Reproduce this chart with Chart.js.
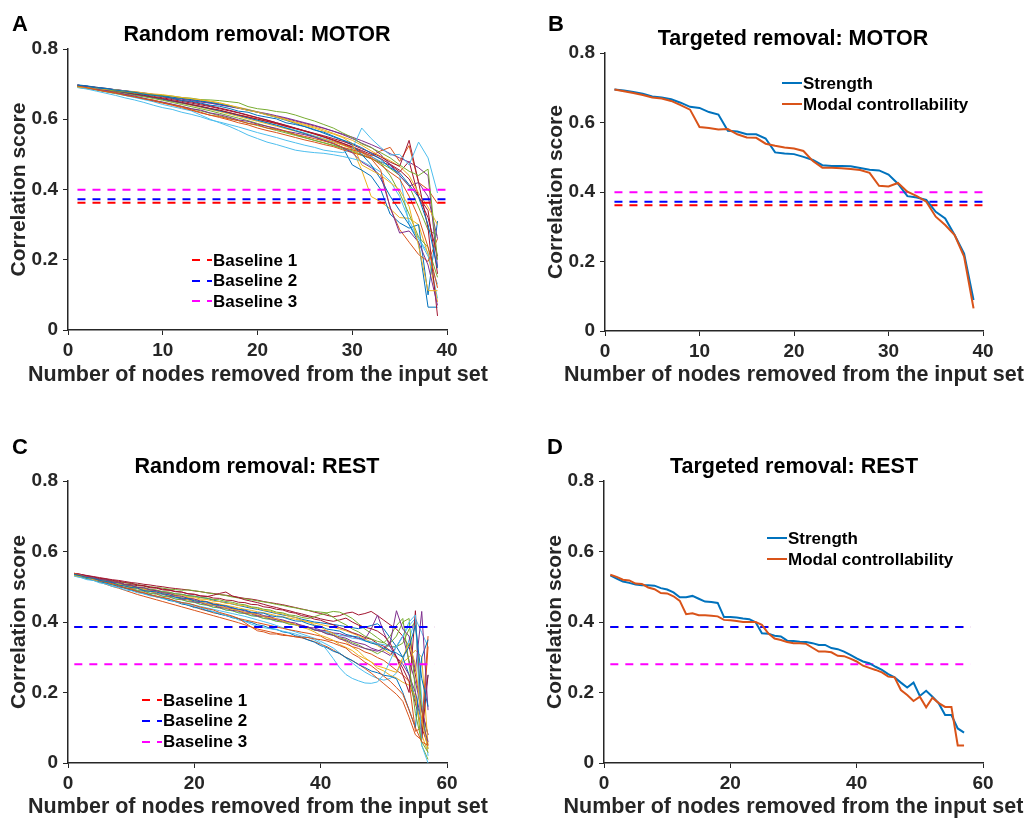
<!DOCTYPE html>
<html lang="en">
<head>
<meta charset="UTF-8">
<script src="https://cdn.jsdelivr.net/npm/chart.js"></script>
<title>Random and targeted removal</title>
<style>
  body { margin:0; background:#fff; width:1026px; height:818px; position:relative; overflow:hidden;
         font-family:"Liberation Sans", Arial, Helvetica, sans-serif; }
  canvas { position:absolute; }
  .txt { position:absolute; font-weight:bold; color:#000; white-space:nowrap; }
  .letter { font-size:22px; line-height:22px; }
  .title { font-size:21.5px; line-height:21px; width:400px; text-align:center; }
  .xtitle { font-size:21.5px; line-height:21px; width:500px; text-align:center; color:#262626; }
  .leg { font-size:17px; line-height:17px; }
  svg.sample { position:absolute; overflow:visible; }
</style>
</head>
<body>
<canvas id="cA" width="513" height="409" style="left:0;top:0"></canvas>
<canvas id="cB" width="513" height="409" style="left:513px;top:0"></canvas>
<canvas id="cC" width="513" height="418" style="left:0;top:400px"></canvas>
<canvas id="cD" width="513" height="418" style="left:513px;top:400px"></canvas>

<div class="txt letter" style="left:12px;top:13px">A</div>
<div class="txt letter" style="left:548px;top:13px">B</div>
<div class="txt letter" style="left:12px;top:436px">C</div>
<div class="txt letter" style="left:547px;top:436px">D</div>

<div class="txt title" style="left:57px;top:24px">Random removal: MOTOR</div>
<div class="txt title" style="left:593px;top:28px">Targeted removal: MOTOR</div>
<div class="txt title" style="left:57px;top:456px">Random removal: REST</div>
<div class="txt title" style="left:594px;top:456px">Targeted removal: REST</div>

<div class="txt xtitle" style="left:8px;top:364px">Number of nodes removed from the input set</div>
<div class="txt xtitle" style="left:544px;top:364px">Number of nodes removed from the input set</div>
<div class="txt xtitle" style="left:8px;top:795.5px">Number of nodes removed from the input set</div>
<div class="txt xtitle" style="left:543.5px;top:795.5px">Number of nodes removed from the input set</div>

<script>
// ---- data ----
const baselineNames = ['Baseline 1', 'Baseline 2', 'Baseline 3'];
const baselinesMotor = [0.362, 0.372, 0.399];
const baselinesRest = [0.386, 0.386, 0.280];
const motorRange = [1, 40];
const restRange = [1, 58];

const strengthMotor = [
  .695,.692,.688,.683,.675,.672,.667,.657,.645,.642,
  .630,.623,.576,.574,.566,.566,.554,.514,.511,.509,
  .501,.492,.477,.475,.475,.474,.469,.464,.462,.450,
  .424,.388,.384,.377,.343,.324,.276,.223,.089];
const modalMotor = [
  .695,.690,.685,.679,.672,.669,.662,.650,.637,.587,
  .584,.580,.581,.566,.557,.556,.539,.533,.528,.525,
  .518,.489,.470,.470,.468,.466,.463,.455,.418,.416,
  .426,.401,.388,.372,.329,.305,.276,.214,.065];

const strengthRest = [
  .532,.523,.515,.511,.506,.504,.504,.503,.496,.492,
  .484,.470,.470,.474,.466,.458,.457,.454,.414,.414,
  .413,.410,.408,.399,.368,.367,.361,.359,.347,.346,
  .344,.343,.340,.335,.335,.326,.323,.316,.307,.297,
  .288,.283,.273,.264,.252,.243,.228,.214,.228,.190,
  .205,.188,.169,.136,.136,.098,.086];
const modalRest = [
  .534,.528,.520,.518,.509,.508,.498,.493,.482,.481,
  .473,.460,.422,.425,.419,.419,.418,.416,.406,.405,
  .403,.400,.400,.400,.392,.368,.353,.349,.343,.340,
  .340,.338,.327,.316,.316,.314,.304,.303,.296,.288,
  .276,.270,.264,.257,.245,.243,.207,.193,.176,.188,
  .158,.185,.170,.159,.159,.050,.050];

const randomMotor = [
  [.697,.694,.689,.687,.683,.680,.677,.671,.668,.665,
   .660,.653,.651,.646,.640,.637,.631,.623,.620,.611,
   .606,.601,.590,.585,.579,.569,.563,.552,.541,.531,
   .519,.503,.486,.462,.447,.414,.378,.300,.176],
  [.695,.690,.684,.679,.676,.668,.664,.658,.655,.647,
   .641,.636,.627,.620,.611,.608,.601,.596,.588,.584,
   .575,.571,.566,.557,.551,.545,.538,.531,.520,.513,
   .505,.490,.470,.449,.430,.381,.321,.236,.120],
  [.692,.690,.688,.685,.684,.680,.679,.675,.672,.670,
   .666,.662,.659,.655,.652,.647,.640,.632,.625,.620,
   .612,.606,.598,.590,.582,.575,.566,.558,.548,.531,
   .470,.455,.441,.420,.399,.352,.240,.112,.112],
  [.696,.692,.686,.682,.676,.671,.666,.660,.654,.649,
   .643,.637,.630,.626,.618,.613,.606,.598,.594,.586,
   .580,.574,.566,.561,.556,.549,.540,.532,.519,.505,
   .478,.462,.440,.350,.276,.282,.250,.185,.070],
  [.694,.690,.688,.683,.681,.678,.675,.672,.669,.668,
   .666,.662,.660,.656,.655,.653,.650,.647,.636,.630,
   .627,.622,.619,.612,.603,.595,.585,.575,.561,.548,
   .530,.519,.505,.490,.470,.452,.440,.458,.200],
  [.690,.686,.680,.674,.668,.661,.655,.648,.640,.633,
   .628,.620,.614,.607,.598,.592,.585,.578,.570,.562,
   .555,.548,.540,.533,.526,.520,.512,.508,.505,.515,
   .575,.545,.520,.498,.500,.470,.535,.490,.390],
  [.697,.693,.689,.685,.681,.677,.672,.668,.663,.659,
   .653,.648,.642,.637,.631,.626,.619,.612,.606,.600,
   .594,.588,.580,.574,.567,.560,.553,.545,.537,.528,
   .516,.505,.493,.478,.466,.540,.420,.290,.040],
  [.698,.695,.691,.688,.684,.681,.677,.674,.670,.667,
   .663,.659,.656,.652,.648,.643,.638,.632,.626,.620,
   .613,.605,.597,.588,.579,.571,.560,.550,.540,.526,
   .500,.470,.430,.381,.340,.300,.250,.065,.065],
  [.693,.689,.684,.679,.674,.670,.664,.659,.652,.646,
   .640,.633,.626,.618,.612,.605,.598,.590,.584,.575,
   .568,.562,.555,.548,.541,.535,.528,.522,.513,.505,
   .498,.488,.455,.348,.286,.250,.215,.195,.260],
  [.695,.693,.690,.686,.682,.679,.676,.672,.668,.665,
   .663,.660,.657,.654,.650,.645,.640,.634,.628,.621,
   .614,.607,.600,.592,.585,.578,.570,.560,.550,.540,
   .526,.510,.495,.482,.466,.440,.390,.350,.300],
  [.696,.693,.690,.686,.683,.680,.676,.672,.669,.665,
   .661,.657,.653,.649,.646,.642,.637,.633,.627,.621,
   .616,.610,.604,.597,.590,.583,.575,.566,.556,.545,
   .532,.520,.500,.470,.440,.410,.420,.380,.260],
  [.693,.689,.685,.681,.677,.672,.668,.664,.659,.654,
   .648,.642,.636,.630,.624,.617,.610,.603,.596,.588,
   .580,.572,.564,.556,.548,.540,.533,.525,.516,.507,
   .497,.488,.476,.440,.390,.330,.265,.235,.150],
  [.692,.688,.684,.679,.674,.668,.662,.656,.650,.642,
   .636,.630,.624,.612,.600,.590,.580,.568,.555,.545,
   .535,.528,.520,.512,.508,.505,.503,.499,.494,.488,
   .481,.466,.450,.424,.380,.312,.260,.210,.130],
  [.697,.694,.691,.688,.684,.681,.677,.673,.669,.664,
   .659,.654,.649,.644,.638,.632,.626,.619,.612,.605,
   .598,.590,.582,.574,.566,.558,.550,.541,.532,.522,
   .511,.500,.488,.472,.455,.430,.380,.320,.210],
  [.696,.692,.688,.684,.680,.676,.671,.667,.662,.657,
   .652,.647,.642,.636,.630,.624,.618,.611,.604,.597,
   .590,.583,.575,.567,.559,.550,.540,.530,.520,.470,
   .455,.438,.400,.330,.305,.290,.300,.100,.310],
  [.694,.691,.687,.683,.679,.675,.670,.666,.661,.656,
   .651,.646,.641,.636,.630,.625,.619,.613,.607,.601,
   .594,.587,.580,.573,.566,.558,.549,.539,.528,.518,
   .506,.496,.510,.520,.480,.525,.420,.400,.360],
  [.695,.691,.688,.684,.680,.676,.672,.667,.663,.658,
   .652,.646,.640,.634,.628,.622,.615,.608,.601,.594,
   .587,.580,.573,.566,.559,.551,.543,.535,.526,.516,
   .455,.380,.365,.345,.320,.318,.300,.215,.080],
  [.696,.693,.690,.687,.684,.681,.678,.675,.671,.667,
   .663,.659,.655,.651,.646,.641,.636,.631,.626,.620,
   .614,.608,.602,.595,.588,.581,.574,.566,.558,.549,
   .539,.528,.516,.502,.490,.478,.462,.440,.180],
  [.691,.687,.683,.678,.673,.668,.663,.658,.653,.648,
   .642,.636,.630,.624,.617,.610,.603,.596,.589,.582,
   .575,.568,.561,.554,.547,.540,.533,.526,.519,.510,
   .500,.488,.475,.460,.440,.410,.350,.285,.270],
  [.694,.690,.686,.682,.678,.674,.670,.666,.661,.656,
   .651,.646,.641,.635,.629,.623,.617,.611,.604,.597,
   .590,.583,.576,.569,.561,.553,.545,.536,.527,.517,
   .506,.494,.480,.465,.440,.300,.260,.220,.090],
  [.697,.694,.690,.686,.682,.678,.674,.670,.665,.661,
   .656,.651,.646,.641,.636,.630,.624,.618,.611,.604,
   .597,.590,.583,.575,.567,.559,.550,.541,.531,.520,
   .508,.494,.478,.470,.450,.480,.380,.340,.160]
];

const randomRest = [
  [.535,.531,.526,.524,.518,.515,.512,.505,.502,.498,
   .496,.489,.487,.485,.480,.477,.470,.468,.466,.460,
   .458,.457,.450,.447,.446,.440,.436,.434,.428,.426,
   .425,.418,.415,.414,.408,.403,.402,.395,.390,.388,
   .380,.377,.374,.365,.360,.357,.347,.340,.336,.325,
   .318,.312,.300,.330,.390,.240,.160],
  [.538,.533,.527,.524,.517,.513,.509,.502,.497,.493,
   .486,.483,.478,.472,.470,.466,.460,.455,.453,.448,
   .442,.438,.434,.427,.422,.417,.410,.398,.386,.375,
   .372,.366,.366,.362,.361,.358,.357,.356,.352,.350,
   .346,.340,.333,.326,.310,.300,.286,.276,.262,.246,
   .232,.214,.195,.150,.100,.060,.050],
  [.532,.529,.526,.520,.517,.514,.508,.505,.502,.497,
   .494,.491,.486,.483,.480,.475,.472,.469,.463,.460,
   .457,.451,.448,.445,.440,.436,.433,.427,.424,.421,
   .415,.412,.409,.402,.398,.393,.385,.380,.372,.362,
   .356,.348,.336,.328,.319,.305,.296,.287,.275,.270,
   .263,.257,.300,.340,.280,.120,.040],
  [.537,.534,.528,.526,.520,.519,.513,.512,.506,.504,
   .498,.497,.491,.489,.483,.481,.475,.473,.467,.465,
   .459,.457,.451,.449,.443,.441,.435,.432,.426,.424,
   .418,.415,.409,.406,.400,.397,.390,.386,.378,.374,
   .366,.362,.352,.347,.337,.331,.325,.321,.317,.326,
   .340,.432,.380,.360,.260,.430,.150],
  [.534,.532,.527,.525,.520,.518,.513,.511,.506,.504,
   .499,.498,.493,.491,.486,.485,.480,.479,.474,.473,
   .469,.468,.464,.463,.458,.456,.451,.449,.443,.441,
   .436,.434,.428,.426,.420,.418,.413,.410,.415,.421,
   .424,.413,.401,.392,.380,.372,.360,.352,.345,.341,
   .360,.390,.410,.280,.140,.060,.030],
  [.530,.526,.520,.518,.511,.508,.501,.498,.491,.489,
   .483,.480,.474,.472,.466,.464,.457,.455,.449,.447,
   .440,.436,.429,.425,.418,.414,.406,.402,.394,.388,
   .384,.381,.378,.374,.370,.366,.360,.356,.349,.340,
   .320,.296,.270,.251,.240,.233,.227,.226,.230,.251,
   .290,.331,.360,.400,.420,.050,.000],
  [.538,.535,.531,.528,.524,.522,.518,.516,.512,.510,
   .505,.503,.499,.497,.493,.491,.487,.485,.480,.478,
   .474,.472,.476,.481,.485,.474,.469,.463,.459,.455,
   .450,.445,.441,.436,.432,.427,.423,.418,.414,.409,
   .405,.402,.406,.411,.400,.391,.385,.381,.374,.361,
   .340,.301,.250,.200,.432,.070,.250],
  [.533,.528,.525,.518,.516,.509,.507,.500,.497,.490,
   .487,.480,.477,.471,.468,.461,.458,.451,.448,.441,
   .439,.432,.429,.422,.419,.412,.409,.402,.399,.392,
   .389,.382,.379,.372,.369,.361,.357,.349,.343,.333,
   .327,.317,.311,.299,.291,.279,.271,.261,.256,.249,
   .246,.239,.200,.151,.100,.300,.350],
  [.538,.534,.528,.525,.518,.515,.508,.504,.496,.493,
   .486,.483,.476,.474,.468,.465,.458,.455,.447,.444,
   .436,.432,.426,.423,.418,.415,.410,.406,.402,.398,
   .394,.390,.386,.382,.378,.375,.371,.368,.364,.360,
   .350,.347,.342,.338,.330,.325,.315,.309,.299,.291,
   .277,.263,.250,.231,.090,.100,.360],
  [.535,.532,.526,.524,.518,.516,.510,.508,.502,.500,
   .495,.494,.489,.488,.483,.482,.477,.476,.471,.470,
   .465,.464,.459,.458,.453,.452,.447,.446,.441,.439,
   .433,.431,.425,.423,.416,.413,.405,.401,.392,.386,
   .375,.367,.354,.344,.329,.317,.299,.286,.269,.261,
   .249,.241,.229,.221,.190,.080,.030],
  [.536,.530,.528,.521,.519,.513,.511,.505,.503,.497,
   .495,.489,.487,.481,.479,.473,.471,.465,.463,.457,
   .455,.449,.447,.441,.439,.433,.431,.425,.423,.417,
   .415,.409,.407,.401,.399,.393,.391,.385,.383,.377,
   .375,.369,.367,.361,.359,.353,.351,.380,.420,.370,
   .330,.300,.280,.250,.200,.120,.060],
  [.533,.530,.523,.521,.515,.512,.506,.504,.497,.495,
   .489,.487,.481,.479,.473,.471,.465,.463,.458,.456,
   .450,.448,.442,.440,.434,.432,.426,.424,.418,.416,
   .410,.408,.402,.400,.394,.392,.386,.384,.377,.374,
   .367,.363,.355,.350,.341,.335,.325,.319,.310,.320,
   .340,.360,.400,.410,.200,.050,.010],
  [.531,.528,.522,.520,.514,.512,.506,.504,.498,.496,
   .490,.488,.482,.480,.474,.472,.466,.464,.458,.456,
   .450,.448,.442,.440,.434,.432,.426,.424,.418,.416,
   .410,.408,.402,.400,.394,.392,.386,.384,.378,.376,
   .370,.368,.362,.360,.354,.352,.346,.344,.338,.336,
   .330,.328,.360,.390,.410,.370,.330],
  [.537,.535,.529,.527,.521,.520,.514,.513,.507,.506,
   .503,.502,.497,.496,.491,.490,.486,.485,.480,.479,
   .474,.473,.468,.467,.462,.461,.456,.455,.450,.449,
   .443,.441,.436,.434,.428,.425,.418,.415,.408,.405,
   .398,.392,.384,.378,.370,.364,.356,.351,.339,.331,
   .319,.301,.269,.231,.169,.101,.050],
  [.535,.532,.528,.525,.521,.518,.514,.510,.506,.502,
   .498,.494,.491,.488,.486,.483,.480,.478,.475,.473,
   .470,.467,.462,.458,.455,.451,.447,.443,.439,.436,
   .432,.428,.424,.420,.417,.413,.408,.404,.400,.398,
   .395,.393,.390,.387,.384,.381,.385,.390,.395,.380,
   .355,.330,.300,.250,.180,.120,.250],
  [.536,.531,.525,.519,.513,.507,.501,.496,.490,.484,
   .478,.473,.468,.463,.458,.453,.448,.443,.438,.433,
   .428,.423,.418,.413,.408,.403,.398,.392,.386,.380,
   .376,.372,.368,.365,.361,.358,.355,.350,.344,.337,
   .330,.320,.310,.300,.290,.280,.268,.255,.240,.225,
   .210,.195,.175,.130,.080,.065,.330],
  [.534,.530,.527,.523,.519,.516,.512,.508,.505,.501,
   .498,.494,.490,.487,.483,.480,.476,.472,.469,.465,
   .462,.458,.454,.451,.447,.444,.440,.436,.433,.429,
   .426,.422,.418,.415,.411,.408,.404,.400,.397,.393,
   .389,.385,.380,.375,.368,.361,.352,.343,.333,.322,
   .310,.298,.285,.300,.320,.300,.050],
  [.536,.533,.527,.524,.521,.515,.513,.509,.503,.500,
   .497,.491,.489,.486,.479,.476,.474,.467,.465,.462,
   .455,.452,.450,.444,.440,.438,.431,.428,.426,.419,
   .416,.414,.406,.403,.400,.392,.389,.386,.378,.374,
   .371,.362,.358,.354,.345,.340,.336,.326,.320,.315,
   .305,.330,.360,.290,.230,.150,.080],
  [.534,.532,.529,.526,.523,.520,.517,.514,.511,.509,
   .506,.503,.500,.498,.496,.493,.492,.490,.491,.489,
   .486,.483,.480,.478,.475,.471,.468,.466,.463,.460,
   .457,.454,.450,.447,.443,.440,.436,.433,.430,.428,
   .426,.430,.428,.420,.410,.395,.380,.368,.355,.342,
   .330,.330,.340,.380,.400,.150,.040],
  [.530,.527,.522,.518,.513,.509,.504,.500,.495,.491,
   .486,.482,.477,.473,.468,.465,.460,.456,.452,.448,
   .444,.440,.436,.432,.428,.424,.420,.416,.411,.406,
   .401,.396,.390,.384,.378,.372,.366,.360,.354,.345,
   .336,.326,.312,.298,.284,.270,.258,.248,.240,.235,
   .240,.255,.290,.350,.410,.180,.020],
  [.538,.535,.532,.529,.526,.523,.520,.518,.515,.512,
   .510,.507,.505,.502,.500,.497,.495,.493,.491,.488,
   .486,.483,.481,.478,.476,.473,.470,.467,.465,.462,
   .458,.455,.452,.449,.445,.441,.437,.433,.428,.424,
   .419,.415,.418,.425,.428,.420,.424,.430,.418,.405,
   .392,.380,.360,.330,.250,.150,.080]
];

// ---- styling ----
const LINE_COLORS = ['#0072BD', '#D95319', '#EDB120', '#7E2F8E', '#77AC30', '#4DBEEE', '#A2142F'];
const BASE_COLORS = ['#FF0000', '#0000FF', '#FF00FF'];
const AXIS = '#262626';
const FAMILY = '"Liberation Sans", Arial, Helvetica, sans-serif';

const pts = vals => vals.map((v, i) => ({ x: i + 1, y: v }));

function randomSets(lines) {
  return lines.map((vals, i) => ({
    data: pts(vals), borderColor: LINE_COLORS[i % 7], borderWidth: 1, order: 5
  }));
}

// red sits under blue, so where they share a value only blue shows
function baselineSets(vals, range, under) {
  const base = under ? 6 : 1;
  return vals.map((v, i) => ({
    data: [{ x: range[0], y: v }, { x: range[1], y: v }],
    borderColor: BASE_COLORS[i], borderWidth: 2, borderDash: [8, 7],
    order: base + (i === 0 ? 1 : 0)
  }));
}

function targetedSets(strength, modal) {
  return [
    { data: pts(modal), borderColor: LINE_COLORS[1], borderWidth: 2, order: 0 },
    { data: pts(strength), borderColor: LINE_COLORS[0], borderWidth: 2, order: 1 }
  ];
}

function makeChart(id, datasets, o) {
  return new Chart(document.getElementById(id), {
    type: 'line',
    data: { datasets },
    options: {
      responsive: false,
      animation: false,
      events: [],
      layout: { padding: { left: 0, top: o.top, right: o.right, bottom: 0 } },
      elements: { point: { radius: 0 }, line: { tension: 0 } },
      plugins: { legend: { display: false }, tooltip: { enabled: false } },
      scales: {
        x: {
          type: 'linear', min: 0, max: o.xMax,
          ticks: { stepSize: o.xStep, color: AXIS, padding: 4, maxRotation: 0,
                   font: { family: FAMILY, size: 19, weight: 'bold' } },
          grid: { drawOnChartArea: false, drawTicks: true, tickLength: 5, color: AXIS },
          border: { color: AXIS, width: 1.5 },
          afterFit: s => { s.height = o.xH; }
        },
        y: {
          type: 'linear', min: 0, max: 0.8,
          ticks: { stepSize: 0.2, color: AXIS, padding: 5,
                   font: { family: FAMILY, size: 19, weight: 'bold' } },
          grid: { drawOnChartArea: false, drawTicks: true, tickLength: 5, color: AXIS },
          border: { color: AXIS, width: 1.5 },
          title: { display: true, text: 'Correlation score', color: AXIS,
                   font: { family: FAMILY, size: 21, weight: 'bold', lineHeight: 1 },
                   padding: { top: o.yTitlePad, bottom: 0 } },
          afterFit: s => { s.width = o.yW; }
        }
      }
    }
  });
}

makeChart('cA', [...baselineSets(baselinesMotor, motorRange), ...randomSets(randomMotor)],
  { top: 49, right: 66, xH: 79, yW: 68, xMax: 40, xStep: 10, yTitlePad: 8.5 });
makeChart('cB', [...targetedSets(strengthMotor, modalMotor), ...baselineSets(baselinesMotor, motorRange, true)],
  { top: 53, right: 43, xH: 78, yW: 92, xMax: 40, xStep: 10, yTitlePad: 32.5 });
makeChart('cC', [...baselineSets(baselinesRest, restRange), ...randomSets(randomRest)],
  { top: 81, right: 66, xH: 55, yW: 68, xMax: 60, xStep: 20, yTitlePad: 8.5 });
makeChart('cD', [...targetedSets(strengthRest, modalRest), ...baselineSets(baselinesRest, restRange, true)],
  { top: 81, right: 43, xH: 55, yW: 91, xMax: 60, xStep: 20, yTitlePad: 31.5 });

// ---- legends (HTML) ----
function legend(x, textX, rows) {
  rows.forEach(r => {
    const svg = document.createElementNS('http://www.w3.org/2000/svg', 'svg');
    svg.setAttribute('class', 'sample');
    svg.setAttribute('width', textX - x);
    svg.setAttribute('height', 4);
    svg.style.left = x + 'px';
    svg.style.top = (r.y - 2) + 'px';
    const ln = document.createElementNS('http://www.w3.org/2000/svg', 'line');
    ln.setAttribute('x1', 0); ln.setAttribute('y1', 2);
    ln.setAttribute('x2', textX - x - 1); ln.setAttribute('y2', 2);
    ln.setAttribute('stroke', r.color); ln.setAttribute('stroke-width', 2);
    if (r.dash) ln.setAttribute('stroke-dasharray', '8,7');
    svg.appendChild(ln);
    document.body.appendChild(svg);
    const d = document.createElement('div');
    d.className = 'txt leg';
    d.style.left = textX + 'px';
    d.style.top = (r.y - 8.3) + 'px';
    d.textContent = r.label;
    document.body.appendChild(d);
  });
}

legend(192, 213, baselineNames.map((n, i) => ({ label: n, color: BASE_COLORS[i], dash: true, y: [260, 280.7, 301][i] })));
legend(142, 163, baselineNames.map((n, i) => ({ label: n, color: BASE_COLORS[i], dash: true, y: [700, 720.7, 741.5][i] })));
legend(782, 803, [{ label: 'Strength', color: LINE_COLORS[0], y: 83.3 },
                  { label: 'Modal controllability', color: LINE_COLORS[1], y: 104 }]);
legend(767, 788, [{ label: 'Strength', color: LINE_COLORS[0], y: 538.3 },
                  { label: 'Modal controllability', color: LINE_COLORS[1], y: 559 }]);
</script>
</body>
</html>
